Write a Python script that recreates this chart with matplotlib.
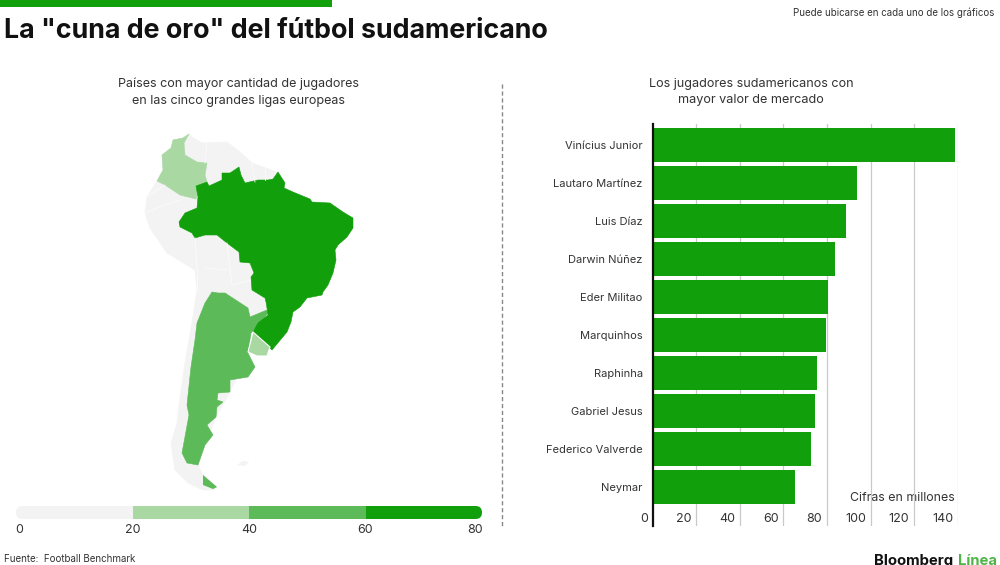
import matplotlib
matplotlib.use('Agg')
from matplotlib import pyplot as plt
from matplotlib.patches import Polygon, FancyBboxPatch

plt.rcParams['font.family'] = ['Inter', 'Liberation Sans', 'DejaVu Sans']

# barras
players = ['Vinícius Junior', 'Lautaro Martínez', 'Luis Díaz', 'Darwin Núñez', 'Eder Militao',
           'Marquinhos', 'Raphinha', 'Gabriel Jesus', 'Federico Valverde', 'Neymar']
market_value = [138.6, 93.7, 88.7, 83.6, 80.4, 79.5, 75.4, 74.4, 72.6, 65.3]
value_ticks = [20, 40, 60, 80, 100, 120, 140]

# leyenda
legend_edges = [0, 20, 40, 60, 80]
legend_colors = ['#f3f3f3', '#a9d8a3', '#5cba58', '#119f0b']

land = [(189,134),(192,137),(202,143),(227,142),(240,152),(252,163),(277,172),(285,183),(270,240),
        (268,300),(268,313),(253,332),(248,353),(230,392),(216,417),(205,445),(198,465),(203,475),
        (217,487),(213,490),(203,490),(188,483),(175,470),(171,443),(177,423),(180,397),(185,363),
        (192,323),(197,290),(195,270),(167,253),(150,228),(145,213),(147,197),(157,181),(163,170),
        (162,155),(171,148),(173,140),(183,138)]
brazil = [(196,186),(207,182),(209,186),(222,180),(222,173),(230,173),(239,167),(241,175),(245,183),
          (258,180),(268,180),(273,179),(278,172),(285,183),(284,188),(293,192),(310,199),(312,202),
          (330,203),(343,212),(353,218),(353,228),(347,237),(338,245),(335,250),(336,260),(333,273),
          (328,285),(323,292),(322,295),(307,298),(300,307),(293,312),(291,322),(287,332),(272,350),
          (253,332),(258,323),(268,315),(267,308),(266,302),(265,298),(252,290),(251,277),(254,273),
          (250,263),(240,262),(239,252),(227,243),(217,235),(205,235),(195,238),(192,233),(180,227),
          (179,222),(185,213),(197,208),(198,197)]
colombia = [(189,134),(183,138),(173,140),(171,148),(162,155),(163,170),(157,181),(165,185),(180,195),
            (196,199),(198,192),(196,186),(207,182),(205,175),(207,163),(197,162),(185,155),(184,143)]
argentina = [(212,292),(218,293),(225,293),(248,308),(250,317),(267,310),(268,313),(258,325),(251,333),
             (248,353),(255,367),(248,377),(230,380),(230,392),(218,393),(217,400),(223,402),(217,407),
             (216,417),(207,425),(213,435),(205,445),(198,465),(187,463),(182,453),(189,415),(187,405),
             (191,367),(195,340),(197,323),(205,303)]
tierra_fuego = [(203,475),(217,487),(213,489),(203,485)]
uruguay = [(253,332),(270,347),(267,356),(257,356),(248,352)]
malvinas = [(237,465),(243,461),(249,462),(245,466)]
borders = [[(147,197),(165,185)], [(145,213),(165,205),(180,200)], [(195,238),(197,270)],
           [(197,270),(197,290)], [(227,243),(232,285),(250,280)], [(205,268),(227,270)],
           [(207,143),(205,163)], [(252,163),(255,182)], [(265,168),(265,180)]]

fig = plt.figure(figsize=(10, 5.65), dpi=100)
W, H = 1000, 565

# capa general en pixeles
bg = fig.add_axes([0, 0, 1, 1])
bg.set_xlim(0, W)
bg.set_ylim(H, 0)
bg.axis('off')

bg.fill_between([0, 332], 0, 7, color='#119f0b', lw=0)
bg.text(4, 31, 'La "cuna de oro" del fútbol sudamericano', fontsize=19.3, fontweight='bold',
        color='#111111', va='center', ha='left')
bg.text(994, 13, 'Puede ubicarse en cada uno de los gráficos', fontsize=7.0, color='#333333',
        va='center', ha='right')
bg.text(238, 92, 'Países con mayor cantidad de jugadores\nen las cinco grandes ligas europeas',
        fontsize=9.05, color='#333333', ha='center', va='center', linespacing=1.55)
bg.text(751, 92, 'Los jugadores sudamericanos con\nmayor valor de mercado',
        fontsize=9.1, color='#333333', ha='center', va='center', linespacing=1.55)
bg.plot([502, 502], [84, 527], color='#888888', lw=1, ls=(0, (3, 2)))

# mapa
bg.add_patch(Polygon(land, fc='#f3f3f3', ec='#f3f3f3', lw=0.5, joinstyle='round'))
bg.add_patch(Polygon(malvinas, fc='#f3f3f3', ec='none'))
for b in borders:
    bg.plot([p[0] for p in b], [p[1] for p in b], color='#fbfbfb', lw=0.6)
bg.add_patch(Polygon(colombia, fc='#a9d8a3', ec='#a9d8a3', lw=0.4, joinstyle='round'))
bg.add_patch(Polygon(argentina, fc='#5cba58', ec='#5cba58', lw=0.4, joinstyle='round'))
bg.add_patch(Polygon(tierra_fuego, fc='#5cba58', ec='none'))
bg.add_patch(Polygon(brazil, fc='#119f0b', ec='#119f0b', lw=0.4, joinstyle='round'))
bg.add_patch(Polygon(uruguay, fc='#a9d8a3', ec='white', lw=0.8))

# leyenda
leg = fig.add_axes([16 / W, 1 - 519 / H, 466 / W, 13 / H])
leg.set_xlim(legend_edges[0], legend_edges[-1])
leg.set_ylim(0, 1)
leg.axis('off')
clip = FancyBboxPatch((0, 0), 80, 1, boxstyle='round,pad=0,rounding_size=1.1',
                      mutation_aspect=0.45, transform=leg.transData, fc='none', ec='none')
leg.add_patch(clip)
for i in range(len(legend_colors)):
    r = leg.barh(0.5, legend_edges[i + 1] - legend_edges[i], left=legend_edges[i], height=1,
                 color=legend_colors[i])
    r[0].set_clip_path(clip)
for v in legend_edges:
    x = 16 + v / 80 * 466
    if v == 0:
        x = 19.5
    if v == 80:
        x = 475
    bg.text(x, 530, str(v), fontsize=9.0, color='#333333', ha='center', va='center')

# barras
ax = fig.add_axes([652.5 / W, 1 - 526 / H, 305.5 / W, 402 / H])
ax.set_xlim(0, 140)
ax.set_ylim(10.03, -0.553)
ax.set_facecolor('none')
ax.barh(range(len(players)), market_value, height=0.895, color='#119f0b', zorder=2)
for v in value_ticks:
    ax.axvline(v, color='#c9c9c9', lw=0.9, zorder=1)
    ax.annotate(str(v), (v, 519), xycoords=('data', bg.transData), xytext=(-3.5, 0),
                textcoords='offset points', fontsize=9.0, color='#333333', ha='right', va='center')
for s in ['top', 'right', 'bottom']:
    ax.spines[s].set_visible(False)
ax.spines['left'].set_linewidth(1.6)
ax.spines['left'].set_color('#111111')
ax.set_xticks([])
ax.set_yticks(range(len(players)))
ax.set_yticklabels(players, fontsize=8.0, color='#333333')
ax.tick_params(axis='y', length=0, pad=7)

bg.text(644, 519, '0', fontsize=9.0, color='#333333', ha='center', va='center')
bg.text(955, 498, 'Cifras en millones', fontsize=8.9, color='#333333', ha='right', va='center', zorder=5)
fig.text(4 / W, 1 - 559 / H, 'Fuente:  Football Benchmark', fontsize=7.0, color='#333333', ha='left', va='center')
bg.text(874, 565, 'Bloomberg', fontsize=10.7, fontweight='bold', color='#111111', ha='left', va='baseline')
bg.text(958, 565, 'Línea', fontsize=10.7, fontweight='bold', color='#4fb548', ha='left', va='baseline')

fig.savefig('out.png', dpi=100)
